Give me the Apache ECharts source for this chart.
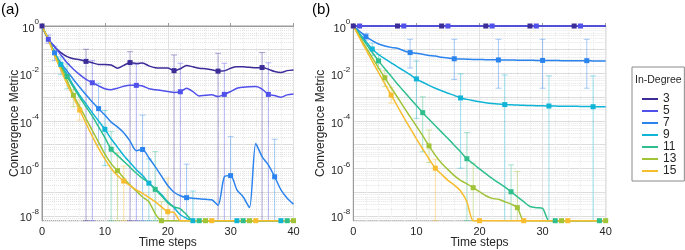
<!DOCTYPE html>
<html>
<head>
<meta charset="utf-8">
<script src="https://cdn.jsdelivr.net/npm/echarts@6/dist/echarts.min.js"></script>
<style>
html, body { margin: 0; padding: 0; background: #fff; }
#chart { width: 685px; height: 250px; }
</style>
</head>
<body>
<div id="chart"></div>
<script>
// values are log10(convergence metric); Z = exact zero (drawn on the bottom edge)
var Z = null;
var Y_MIN = -8.2;

var steps = [0,1,2,3,4,5,6,7,8,9,10,11,12,13,14,15,16,17,18,19,20,
             21,22,23,24,25,26,27,28,29,30,31,32,33,34,35,36,37,38,39,40];
var degrees = ['3','5','7','9','11','13','15'];
var colors = ['#3b2c98','#5050ea','#2b84ee','#10b4d6','#2ebf8c','#a0c338','#f8bd2e'];

// panel (a)
var a3 = [0,-0.56,-0.87,-1.12,-1.29,-1.38,-1.42,-1.49,-1.55,-1.62,-1.62,-1.64,-1.78,-1.66,-1.54,-1.58,-1.56,-1.68,-1.76,-1.77,-1.77,
          -1.88,-1.80,-1.66,-1.72,-1.78,-1.80,-1.84,-1.90,-1.89,-1.78,-1.72,-1.72,-1.74,-1.76,-1.75,-1.82,-1.92,-1.96,-1.88,-1.85];
var a5 = [0,-0.56,-0.87,-1.22,-1.55,-1.82,-2.05,-2.25,-2.39,-2.52,-2.64,-2.68,-2.62,-2.54,-2.50,-2.50,-2.53,-2.64,-2.68,-2.72,-2.76,
          -2.80,-2.77,-2.62,-2.76,-2.95,-2.92,-2.90,-2.97,-2.88,-2.76,-2.62,-2.58,-2.56,-2.55,-2.66,-2.88,-2.93,-3.00,-2.90,-2.86];
var a7 = [0,-0.56,-1.13,-1.55,-1.90,-2.25,-2.58,-2.90,-3.20,-3.48,-3.75,-4.05,-4.25,-4.50,-4.85,-5.25,-5.20,-5.55,-5.92,-6.32,-6.72,
          -7.00,-7.15,-7.23,-7.25,-7.28,-7.30,-7.32,-7.55,-6.35,-6.30,-6.90,-7.20,-7.65,-4.95,-5.50,-5.85,-6.35,-6.90,-7.25,-7.50];
var a9 = [0,-0.56,-1.12,-1.62,-2.05,-2.50,-2.92,-3.28,-3.65,-4.00,-4.35,-4.75,-5.10,-5.45,-5.75,-6.05,-6.30,-6.62,-6.85,-7.10,-7.40,
          -7.65,-7.95,-8.10,Z,Z,Z,Z,Z,Z,Z,Z,Z,Z,Z,Z,Z,Z,Z,Z,Z];
var a11 = [0,-0.56,-1.15,-1.68,-2.13,-2.58,-3.00,-3.40,-3.80,-4.25,-4.70,-5.19,-5.45,-5.70,-5.95,-6.20,-6.42,-6.60,-6.88,-7.15,-7.45,
           -7.62,-7.70,-7.95,Z,Z,Z,Z,Z,Z,Z,Z,Z,Z,Z,Z,Z,Z,Z,Z,Z];
var a13 = [0,-0.56,-1.20,-1.75,-2.30,-2.92,-3.40,-3.90,-4.40,-4.90,-5.40,-5.80,-6.09,-6.40,-6.70,-6.95,-7.20,-7.40,-7.90,Z,Z,
           Z,Z,Z,Z,Z,Z,Z,Z,Z,Z,Z,Z,Z,Z,Z,Z,Z,Z,Z,Z];
var a15 = [0,-0.56,-1.25,-1.85,-2.45,-3.00,-3.54,-4.10,-4.65,-5.15,-5.60,-6.00,-6.30,-6.53,-6.72,-6.90,-7.05,-7.22,-7.40,-7.62,-7.82,
           -7.85,Z,Z,Z,Z,Z,Z,Z,Z,Z,Z,Z,Z,Z,Z,Z,Z,Z,Z,Z];

// panel (b)
var b3 = [0,0,0,0,0,0,0,0,0,0,0,0,0,0,0,0,0,0,0,0,0,0,0,0,0,0,0,0,0,0,0,0,0,0,0,0,0,0,0,0,0];
var b5 = [0,0,0,0,0,0,0,0,0,0,0,0,0,0,0,0,0,0,0,0,0,0,0,0,0,0,0,0,0,0,0,0,0,0,0,0,0,0,0,0,0];
var b7 = [0,-0.22,-0.45,-0.62,-0.76,-0.84,-0.90,-0.94,-1.04,-1.12,-1.15,-1.19,-1.24,-1.26,-1.32,-1.35,-1.38,-1.39,-1.40,-1.41,-1.41,
          -1.42,-1.42,-1.43,-1.43,-1.43,-1.44,-1.44,-1.44,-1.45,-1.45,-1.45,-1.45,-1.46,-1.46,-1.46,-1.46,-1.46,-1.47,-1.47,-1.47];
var b9 = [0,-0.32,-0.65,-0.97,-1.20,-1.38,-1.55,-1.72,-1.88,-2.05,-2.23,-2.37,-2.50,-2.62,-2.73,-2.83,-2.92,-3.03,-3.09,-3.14,-3.19,
          -3.23,-3.26,-3.28,-3.31,-3.32,-3.33,-3.34,-3.35,-3.36,-3.36,-3.37,-3.37,-3.38,-3.38,-3.38,-3.39,-3.39,-3.40,-3.40,-3.40];
var b11 = [0,-0.37,-0.74,-1.11,-1.47,-1.80,-2.12,-2.44,-2.75,-3.05,-3.35,-3.65,-3.93,-4.20,-4.47,-4.74,-5.02,-5.30,-5.59,-5.80,-6.02,
           -6.22,-6.42,-6.60,-6.78,-6.98,-7.19,-7.40,-7.60,-7.65,-7.68,Z,Z,Z,Z,Z,Z,Z,Z,Z,Z];
var b13 = [0,-0.45,-0.90,-1.33,-1.76,-2.18,-2.60,-3.00,-3.42,-3.82,-4.22,-4.62,-5.05,-5.45,-5.78,-6.05,-6.30,-6.50,-6.65,-6.81,-6.98,
           -7.15,-7.26,-7.30,-7.40,-7.50,-7.65,Z,Z,Z,Z,Z,Z,Z,Z,Z,Z,Z,Z,Z,Z];
var b15 = [0,-0.50,-1.00,-1.48,-1.96,-2.44,-2.91,-3.38,-3.85,-4.30,-4.75,-5.18,-5.60,-5.99,-6.25,-6.50,-6.70,-6.95,-7.40,Z,Z,
           Z,Z,Z,Z,Z,Z,Z,Z,Z,Z,Z,Z,Z,Z,Z,Z,Z,Z,Z,Z];

// error bars: [step, low, high]
var ea3 = [[7,Z,-0.98],[14,Z,-1.08],[21,Z,-1.22],[28,Z,-1.15],[35,Z,-1.12]];
var ea5 = [[1,-0.73,-0.38],[8,Z,-1.46],[15,Z,-1.62],[22,Z,-1.57],[29,Z,-1.57],[36,Z,-1.55]];
var ea7 = [[2,-1.45,-0.85],[9,-5.00,-2.41],[16,Z,-3.75],[23,Z,-5.82],[30,Z,-4.66],[37,Z,-4.77]];
var ea9 = [[3,-2.05,-1.30],[10,-5.88,-3.56],[17,Z,-5.60],[24,Z,-6.95]];
var ea11 = [[4,-2.65,-1.60],[11,Z,-4.45],[18,Z,-5.29]];
var ea13 = [[5,-3.40,-2.67],[12,Z,-5.35],[19,Z,-7.40]];
var ea15 = [[6,-3.96,-3.12],[13,Z,-5.90],[20,Z,-6.41]];

var eb3 = [];
var eb5 = [];
var eb7 = [[2,-0.59,-0.31],[9,-1.77,-0.56],[16,-2.25,-0.56],[23,-2.62,-0.56],[30,-2.62,-0.56],[37,-2.62,-0.56]];
var eb9 = [[3,-1.25,-0.72],[10,-3.89,-1.47],[17,-5.99,-2.02],[24,Z,-2.06],[31,Z,-2.10],[38,Z,-2.10]];
var eb11 = [[4,-1.80,-1.20],[11,-5.30,-2.98],[18,Z,-4.49],[25,Z,-5.85]];
var eb13 = [[5,-2.55,-1.88],[12,-5.75,-4.38],[19,Z,-5.78],[26,Z,-6.13]];
var eb15 = [[6,-3.25,-2.60],[13,Z,-5.61]];

var linesA = [a3,a5,a7,a9,a11,a13,a15];
var linesB = [b3,b5,b7,b9,b11,b13,b15];
var errsA = [ea3,ea5,ea7,ea9,ea11,ea13,ea15];
var errsB = [eb3,eb5,eb7,eb9,eb11,eb13,eb15];

var FONT = "'Liberation Sans', Arial, sans-serif";
var TXT = '#262626';
var AX = '#9a9a9a';

function yv(v){ return v === Z ? Y_MIN : v; }

function lineSeries(k, vals, g){
    var c = colors[k];
    return {
        name: degrees[k], type: 'line', xAxisIndex: g, yAxisIndex: g*2,
        data: vals.map(function(v,i){ return [steps[i], yv(v)]; }),
        smooth: 0.25, symbol: 'rect', showSymbol: true, showAllSymbol: true,
        symbolSize: function(val, p){ return (p.dataIndex >= k && (p.dataIndex - k) % 7 === 0) ? 5 : 0; },
        lineStyle: { width: 1.5, color: c }, itemStyle: { color: c },
        clip: false, z: 3, silent: true, animation: false
    };
}

function errSeries(k, vals, g){
    var c = colors[k];
    return {
        type: 'custom', xAxisIndex: g, yAxisIndex: g*2, z: 2, silent: true, clip: false,
        encode: { x: 0, y: [1, 2] },
        data: vals.map(function(e){ return [e[0], yv(e[1]), yv(e[2])]; }),
        renderItem: function(params, api){
            var lo = api.coord([api.value(0), api.value(1)]);
            var hi = api.coord([api.value(0), api.value(2)]);
            var w = 3;
            var st = { stroke: c, lineWidth: 1, opacity: 0.42 };
            return { type: 'group', children: [
                { type: 'line', shape: { x1: lo[0], y1: lo[1], x2: hi[0], y2: hi[1] }, style: st },
                { type: 'line', shape: { x1: hi[0]-w, y1: hi[1], x2: hi[0]+w, y2: hi[1] }, style: st },
                { type: 'line', shape: { x1: lo[0]-w, y1: lo[1], x2: lo[0]+w, y2: lo[1] }, style: st }
            ]};
        },
        animation: false
    };
}

function xAxis(g){
    return {
        gridIndex: g, type: 'value', min: 0, max: 40, interval: 10,
        name: 'Time steps', nameLocation: 'middle', nameGap: 15.5, nameMoveOverlap: false,
        nameTextStyle: { color: TXT, fontSize: 12, fontFamily: FONT },
        axisLine: { lineStyle: { color: AX } },
        axisTick: { inside: true, length: 3, lineStyle: { color: AX } },
        axisLabel: { color: TXT, fontSize: 11, fontFamily: FONT, margin: 5.5 },
        splitLine: { lineStyle: { color: '#e2e2e2' } },
        minorTick: { show: false, splitNumber: 5 },
        minorSplitLine: { show: true, lineStyle: { color: '#ebebeb', type: 'dotted' } }
    };
}

// ticks every 0.1 from Y_MIN; colour pattern mimics log minor grid (2..9 per decade)
var MINOR = '#e4e4e4', MAJOR = '#dcdcdc', NONE = 'rgba(0,0,0,0)';
function yAxes(g, gap){
    return [{
        gridIndex: g, type: 'value', min: Y_MIN, max: 0, interval: 0.1,
        name: 'Convergence Metric', nameLocation: 'middle', nameGap: gap, nameMoveOverlap: false,
        nameTextStyle: { color: TXT, fontSize: 12, fontFamily: FONT },
        axisLine: { lineStyle: { color: AX } },
        axisTick: { show: false },
        axisLabel: {
            margin: 3, fontFamily: FONT,
            formatter: function(v){
                var r = Math.round(v*10)/10;
                if (Math.abs(r - Math.round(r)) < 1e-6 && Math.round(r) % 2 === 0) {
                    return '{b|10}{s|' + Math.round(r) + '}';
                }
                return '';
            },
            rich: {
                b: { fontSize: 11, color: TXT, fontFamily: FONT, lineHeight: 16, verticalAlign: 'bottom' },
                s: { fontSize: 8, color: TXT, fontFamily: FONT, lineHeight: 9, verticalAlign: 'top' }
            }
        },
        splitLine: { lineStyle: { type: 'dotted', color: [MINOR, MINOR, NONE, NONE, NONE, MINOR, NONE, MINOR, MINOR, MINOR] } }
    }, {
        gridIndex: g, type: 'value', min: Y_MIN, max: 0, interval: 0.1,
        axisLine: { show: false }, axisTick: { show: false }, axisLabel: { show: false },
        splitLine: { lineStyle: { color: [NONE, NONE, MAJOR, NONE, NONE, NONE, NONE, NONE, NONE, NONE] } }
    }];
}

var series = [];
[0,1].forEach(function(g){
    var lines = g === 0 ? linesA : linesB;
    var errs = g === 0 ? errsA : errsB;
    for (var k = 0; k < degrees.length; k++) {
        if (errs[k].length) series.push(errSeries(k, errs[k], g));
    }
    for (var k2 = 0; k2 < degrees.length; k2++) series.push(lineSeries(k2, lines[k2], g));
});

var myChart = echarts.init(document.getElementById('chart'), null, { renderer: 'canvas' });
myChart.setOption({
    animation: false,
    textStyle: { fontFamily: FONT },
    title: [
        { text: '(a)', left: -4, top: -3, textStyle: { fontSize: 15, fontWeight: 'normal', color: '#000', fontFamily: FONT } },
        { text: '(b)', left: 307, top: -3, textStyle: { fontSize: 15, fontWeight: 'normal', color: '#000', fontFamily: FONT } },
        { text: 'In-Degree', left: 630, top: 70, textStyle: { fontSize: 10.5, fontWeight: 'normal', color: TXT, fontFamily: FONT } }
    ],
    legend: {
        data: degrees, orient: 'vertical', left: 632, top: 67,
        padding: [26, 8, 4, 10], itemGap: 0, itemWidth: 16, itemHeight: 2, icon: 'rect',
        borderColor: '#8a8a8a', borderWidth: 1, backgroundColor: '#fff',
        textStyle: { fontSize: 12, lineHeight: 11.2, color: TXT, fontFamily: FONT },
        selectedMode: false
    },
    grid: [
        { left: 42, top: 26, width: 251.5, height: 194.7, show: true, borderColor: AX, borderWidth: 1, outerBoundsMode: 'none', containLabel: false },
        { left: 353.3, top: 26, width: 252.4, height: 194.7, show: true, borderColor: AX, borderWidth: 1, outerBoundsMode: 'none', containLabel: false }
    ],
    xAxis: [xAxis(0), xAxis(1)],
    yAxis: yAxes(0, 21).concat(yAxes(1, 27)),
    series: series
});
</script>
</body>
</html>
